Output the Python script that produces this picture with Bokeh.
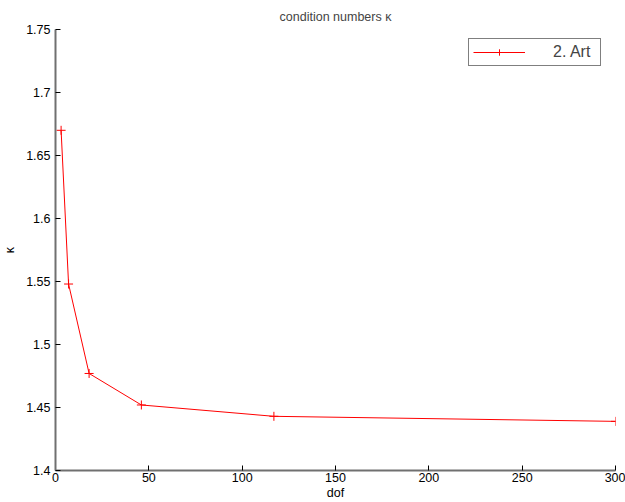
from bokeh.plotting import figure
from bokeh.models import Range1d, FixedTicker, Legend, LegendItem
from bokeh.embed import file_html
from bokeh.resources import INLINE

dof = [3, 7, 18, 46, 117, 300]
kappa = [1.670, 1.548, 1.477, 1.452, 1.443, 1.439]
x_ticks = [0, 50, 100, 150, 200, 250, 300]
y_ticks = [1.4, 1.45, 1.5, 1.55, 1.6, 1.65, 1.7, 1.75]
y_tick_labels = ["1.4", "1.45", "1.5", "1.55", "1.6", "1.65", "1.7", "1.75"]
series_name = "2. Art"

FONT = "Liberation Sans"

p = figure(width=625, height=502, output_backend="svg", toolbar_location=None,
           x_range=Range1d(0, 300), y_range=Range1d(1.4, 1.75),
           title="condition numbers κ",
           min_border_left=54, min_border_right=10, min_border_top=29, min_border_bottom=32)

p.title.align = "center"
p.title.text_font = FONT
p.title.text_font_size = "12.5px"
p.title.text_font_style = "normal"
p.title.offset = 0
p.title.standoff = 12

p.xgrid.visible = False
p.ygrid.visible = False
p.outline_line_color = None
p.background_fill_color = "white"
p.border_fill_color = "white"

for ax in (p.xaxis[0], p.yaxis[0]):
    ax.axis_line_color = "#707070"
    ax.axis_line_width = 2
    ax.major_tick_in = 5
    ax.major_tick_out = 0
    ax.major_tick_line_color = "black"
    ax.minor_tick_line_color = None
    ax.major_label_text_font = FONT
    ax.major_label_text_font_size = "12.5px"
    ax.major_label_text_color = "black"
    ax.axis_label_text_font = FONT
    ax.axis_label_text_font_size = "12.5px"
    ax.axis_label_text_font_style = "normal"
    ax.axis_label_text_color = "black"

p.xaxis.ticker = FixedTicker(ticks=x_ticks)
p.yaxis.ticker = FixedTicker(ticks=y_ticks)
p.yaxis.major_label_overrides = {t: l for t, l in zip(y_ticks, y_tick_labels)}
p.xaxis.axis_label = "dof"
p.yaxis.axis_label = "κ"
p.xaxis.major_label_standoff = 2
p.xaxis.axis_label_standoff = 1
p.yaxis.major_label_standoff = 5
p.yaxis.axis_label_standoff = 6

ln = p.line(dof, kappa, line_color="red", line_width=1)
mk = p.scatter(dof, kappa, marker="cross", size=9, line_color="red", line_width=1)

legend = Legend(items=[LegendItem(label=series_name, renderers=[ln, mk])],
                location=(413, 404))
legend.border_line_color = "black"
legend.border_line_width = 1
legend.padding = 4
legend.margin = 0
legend.glyph_width = 52
legend.glyph_height = 16
legend.label_standoff = 28
legend.label_width = 43
legend.label_height = 16
legend.label_text_font = FONT
legend.label_text_font_size = "16px"
legend.background_fill_alpha = 1
p.add_layout(legend, "center")

open("out.html", "w").write(file_html(p, INLINE))
